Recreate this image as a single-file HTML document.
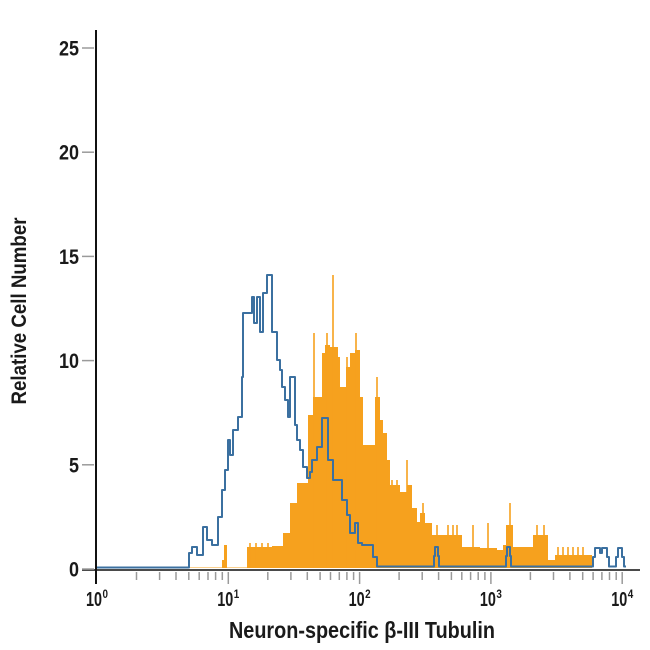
<!DOCTYPE html>
<html>
<head>
<meta charset="utf-8">
<style>
html,body{margin:0;padding:0;background:#fff;}
svg{display:block;}
text{font-family:"Liberation Sans",sans-serif;font-weight:bold;fill:#1a1a1a;}
</style>
</head>
<body>
<svg width="650" height="650" viewBox="0 0 650 650" xmlns="http://www.w3.org/2000/svg">
<rect width="650" height="650" fill="#fff"/>

<!-- orange histogram -->
<path fill="#f6a11e" d="M190,568 V567.5 H222 V560 H224 V545 H227 V567.5 H247 V547 H272 V546 H283 V533 H290 V503 H297 V483 H308 V415 H313 V397 H322 V353 H325 V345 H330 V347 H338 V357 H340 V387 H346 V367 H350 V353 H355 V350 H360 V397 H363 V445 H375 V397 H380 V420 H383 V433 H387 V460 H390 V485 H400 V492 H407 V485 H412 V508 H417 V522 H420 V513 H425 V523 H432 V535 H462 V547 H480 V548 H497 V550 H503 V545 H506 V525 H513 V547 H533 V535 H548 V560 H555 V555 H592 V568 Z"/>
<g stroke="#f6a11e" stroke-width="1.6">
<line x1="250" y1="568" x2="250" y2="543"/>
<line x1="256" y1="568" x2="256" y2="543"/>
<line x1="262" y1="568" x2="262" y2="543"/>
<line x1="268" y1="568" x2="268" y2="543"/>
<line x1="314" y1="568" x2="314" y2="333"/>
<line x1="327" y1="568" x2="327" y2="333"/>
<line x1="333" y1="568" x2="333" y2="275"/>
<line x1="347" y1="568" x2="347" y2="357"/>
<line x1="356" y1="568" x2="356" y2="333"/>
<line x1="377" y1="568" x2="377" y2="377"/>
<line x1="392" y1="568" x2="392" y2="480"/>
<line x1="397" y1="568" x2="397" y2="480"/>
<line x1="407" y1="568" x2="407" y2="460"/>
<line x1="423" y1="568" x2="423" y2="503"/>
<line x1="437" y1="568" x2="437" y2="525"/>
<line x1="448" y1="568" x2="448" y2="525"/>
<line x1="453" y1="568" x2="453" y2="525"/>
<line x1="457" y1="568" x2="457" y2="525"/>
<line x1="473" y1="568" x2="473" y2="525"/>
<line x1="488" y1="568" x2="488" y2="523"/>
<line x1="510" y1="568" x2="510" y2="503"/>
<line x1="537" y1="568" x2="537" y2="525"/>
<line x1="544" y1="568" x2="544" y2="525"/>
<line x1="558" y1="568" x2="558" y2="547"/>
<line x1="563" y1="568" x2="563" y2="547"/>
<line x1="568" y1="568" x2="568" y2="547"/>
<line x1="573" y1="568" x2="573" y2="547"/>
<line x1="578" y1="568" x2="578" y2="547"/>
<line x1="583" y1="568" x2="583" y2="547"/>
</g>

<!-- blue histogram outline -->
<path fill="none" stroke="#3b70a0" stroke-width="2" stroke-linejoin="round" d="M96,567.5 H189 V553 H192 V547 H197 V555 H203 V527 H207 V540 H212 V545 H218 V517 H222 V490 H225 V470 H228 V440 H230 V455 H233 V430 H238 V417 H242 V377 H243 V313 H252 V297 H254 V323 H257 V297 H260 V332 H263 V293 H267 V275 H272 V332 H277 V360 H280 V370 H282 V387 H285 V400 H288 V417 H290 V377 H295 V425 H297 V440 H300 V450 H303 V467 H307 V478 H310 V472 H312 V460 H317 V447 H322 V418 H328 V460 H333 V480 H342 V500 H347 V515 H350 V533 H355 V523 H358 V543 H362 V545 H373 V557 H377 V566.5 H434 V556 H435 V547 H438 V556 H439 V566.5 H506 V556 H507 V547 H510 V556 H511 V566.5 H593 V557 H595 V548 H600 V553 H602 V548 H607 V557 H609 V566.5 H616 V557 H618 V548 H622 V557 H624 V566.5 H626"/>

<!-- x axis -->
<line x1="82" y1="570" x2="640" y2="570" stroke="#4a4a4a" stroke-width="2"/>
<g stroke="#9a9a9a" stroke-width="1.5">
<line x1="136.5" y1="572" x2="136.5" y2="580"/><line x1="159.6" y1="572" x2="159.6" y2="580"/><line x1="176" y1="572" x2="176" y2="580"/><line x1="188.8" y1="572" x2="188.8" y2="580"/><line x1="199.2" y1="572" x2="199.2" y2="580"/><line x1="208" y1="572" x2="208" y2="580"/><line x1="215.6" y1="572" x2="215.6" y2="580"/><line x1="222.3" y1="572" x2="222.3" y2="580"/>
<line x1="228.3" y1="572" x2="228.3" y2="584"/>
<line x1="267.8" y1="572" x2="267.8" y2="580"/><line x1="290.9" y1="572" x2="290.9" y2="580"/><line x1="307.3" y1="572" x2="307.3" y2="580"/><line x1="320.1" y1="572" x2="320.1" y2="580"/><line x1="330.5" y1="572" x2="330.5" y2="580"/><line x1="339.3" y1="572" x2="339.3" y2="580"/><line x1="346.9" y1="572" x2="346.9" y2="580"/><line x1="353.6" y1="572" x2="353.6" y2="580"/>
<line x1="359.6" y1="572" x2="359.6" y2="584"/>
<line x1="399.1" y1="572" x2="399.1" y2="580"/><line x1="422.2" y1="572" x2="422.2" y2="580"/><line x1="438.6" y1="572" x2="438.6" y2="580"/><line x1="451.4" y1="572" x2="451.4" y2="580"/><line x1="461.8" y1="572" x2="461.8" y2="580"/><line x1="470.6" y1="572" x2="470.6" y2="580"/><line x1="478.2" y1="572" x2="478.2" y2="580"/><line x1="484.9" y1="572" x2="484.9" y2="580"/>
<line x1="490.9" y1="572" x2="490.9" y2="584"/>
<line x1="530.4" y1="572" x2="530.4" y2="580"/><line x1="553.5" y1="572" x2="553.5" y2="580"/><line x1="569.9" y1="572" x2="569.9" y2="580"/><line x1="582.7" y1="572" x2="582.7" y2="580"/><line x1="593.1" y1="572" x2="593.1" y2="580"/><line x1="601.9" y1="572" x2="601.9" y2="580"/><line x1="609.5" y1="572" x2="609.5" y2="580"/><line x1="616.2" y1="572" x2="616.2" y2="580"/>
<line x1="622.2" y1="572" x2="622.2" y2="584"/>
</g>

<!-- y axis -->
<line x1="96" y1="30" x2="96" y2="584" stroke="#111" stroke-width="2"/>
<g stroke="#9a9a9a" stroke-width="1.5">
<line x1="82" y1="48" x2="94" y2="48"/>
<line x1="82" y1="152.2" x2="94" y2="152.2"/>
<line x1="82" y1="256.4" x2="94" y2="256.4"/>
<line x1="82" y1="360.6" x2="94" y2="360.6"/>
<line x1="82" y1="464.8" x2="94" y2="464.8"/>
<line x1="82" y1="569" x2="94" y2="569"/>
</g>

<!-- y tick labels -->
<g font-size="21" text-anchor="end">
<text x="79" y="55.5" textLength="20" lengthAdjust="spacingAndGlyphs">25</text>
<text x="79" y="159.7" textLength="20" lengthAdjust="spacingAndGlyphs">20</text>
<text x="79" y="263.9" textLength="20" lengthAdjust="spacingAndGlyphs">15</text>
<text x="79" y="368.1" textLength="20" lengthAdjust="spacingAndGlyphs">10</text>
<text x="79" y="472.3" textLength="10" lengthAdjust="spacingAndGlyphs">5</text>
<text x="79" y="576.5" textLength="10" lengthAdjust="spacingAndGlyphs">0</text>
</g>

<!-- x tick labels -->
<g font-size="20">
<text x="86" y="606" textLength="16" lengthAdjust="spacingAndGlyphs">10</text>
<text x="217.3" y="606" textLength="16" lengthAdjust="spacingAndGlyphs">10</text>
<text x="348.6" y="606" textLength="16" lengthAdjust="spacingAndGlyphs">10</text>
<text x="479.9" y="606" textLength="16" lengthAdjust="spacingAndGlyphs">10</text>
<text x="611.2" y="606" textLength="16" lengthAdjust="spacingAndGlyphs">10</text>
</g>
<g font-size="12">
<text x="102.5" y="598" textLength="5.5" lengthAdjust="spacingAndGlyphs">0</text>
<text x="233.8" y="598" textLength="5.5" lengthAdjust="spacingAndGlyphs">1</text>
<text x="365.1" y="598" textLength="5.5" lengthAdjust="spacingAndGlyphs">2</text>
<text x="496.4" y="598" textLength="5.5" lengthAdjust="spacingAndGlyphs">3</text>
<text x="627.7" y="598" textLength="5.5" lengthAdjust="spacingAndGlyphs">4</text>
</g>

<!-- axis titles -->
<text x="229" y="638" font-size="23" textLength="266" lengthAdjust="spacingAndGlyphs">Neuron-specific β-III Tubulin</text>
<text transform="translate(26,311) rotate(-90)" x="0" y="0" font-size="21" text-anchor="middle" textLength="187" lengthAdjust="spacingAndGlyphs">Relative Cell Number</text>
</svg>
</body>
</html>
